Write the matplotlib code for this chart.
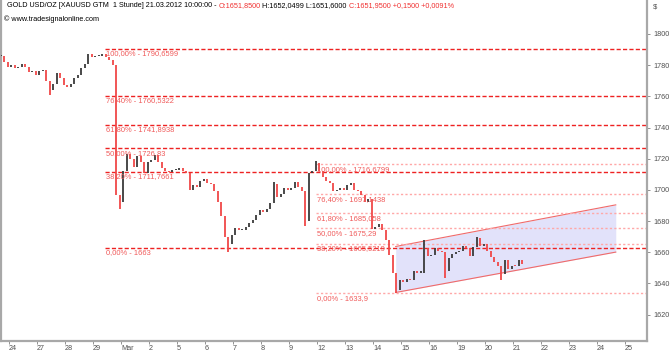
import matplotlib
matplotlib.use("Agg")
import matplotlib.pyplot as plt
import numpy as np

plt.rcParams['font.family'] = ['Liberation Sans', 'DejaVu Sans']

# trading days shown on the x axis (index 0 = Feb 24)
day_labels = ['24', '27', '28', '29', 'Mar', '2', '5', '6', '7', '8', '9', '12',
              '13', '14', '15', '16', '19', '20', '21', '22', '23', '24', '25']

# 3-hour closes, first bar at day -0.286
bar_start = -0.286
bar_step = 0.125
closes = [1786, 1782, 1779, 1780, 1778, 1779, 1781, 1779, 1775.5, 1776,
          1774, 1776, 1777, 1770, 1764, 1768, 1775, 1772, 1767, 1766,
          1768, 1772, 1774, 1778, 1781, 1787, 1785, 1786, 1786, 1787,
          1785, 1783, 1780, 1697, 1692, 1712, 1723, 1720, 1715, 1722,
          1718, 1711, 1718, 1719, 1722.5, 1718, 1714, 1712, 1711.5, 1713,
          1713, 1714, 1712, 1711, 1700, 1703, 1702, 1706, 1707, 1704.5,
          1704, 1699, 1692, 1683, 1670, 1665, 1671, 1675.6, 1674, 1674.4,
          1676, 1679, 1681, 1684, 1687, 1686, 1688, 1691.7, 1704, 1695.5,
          1697.4, 1701, 1700, 1701, 1705, 1702, 1699.5, 1680, 1711, 1712,
          1717, 1712, 1708, 1706, 1704.5, 1699.5, 1700, 1701, 1700, 1703,
          1704.5, 1700, 1699.5, 1697, 1692, 1694, 1675, 1676, 1678, 1674,
          1668, 1658, 1647, 1636, 1642, 1641, 1643, 1642, 1648, 1647,
          1647, 1663, 1657.7, 1658, 1663, 1661, 1660, 1648, 1656, 1659,
          1660, 1661, 1663.7, 1663, 1657.7, 1663.5, 1669, 1664, 1665, 1661,
          1657, 1654, 1651, 1646, 1655, 1649, 1651.3, 1651, 1655, 1652.6]
wick_lows = {14: 1761, 34: 1688, 65: 1660, 87: 1677, 113: 1634, 127: 1643.6, 143: 1642}
wick_highs = {78: 1705, 90: 1718.5, 121: 1668, 136: 1670}

# Fibonacci retracements
fib_levels = [1.0, 0.764, 0.618, 0.5, 0.382, 0.0]
fib1_high, fib1_low, fib1_start = 1790.6599, 1663.0, 3.43
fib2_high, fib2_low, fib2_start = 1716.6799, 1633.9, 10.96

# trend channel (day, price)
chan_x = [13.81, 21.67]
chan_lower = [1634.2, 1660.1]
chan_upper = [1663.7, 1690.4]

xmin, xmax = -0.286, 22.786
ymin, ymax = 1603.4, 1821.8

fig = plt.figure(figsize=(6.7, 3.52), dpi=100)
ax = fig.add_axes([1 / 670, 11.5 / 352, 646 / 670, 1 - 11.5 / 352])
ax.set_xlim(xmin, xmax)
ax.set_ylim(ymin, ymax)

# channel
ax.fill_between(chan_x, chan_lower, chan_upper, color='#e2e2fa', lw=0, zorder=1)
ax.plot(chan_x, chan_lower, color='#f06a6a', lw=0.8, zorder=2)
ax.plot(chan_x, chan_upper, color='#f06a6a', lw=0.8, zorder=2)


def fmt(v):
    return f"{v:.4f}".rstrip('0').rstrip('.').replace('.', ',')


def draw_fib(hi, lo, x0, color, dashes, lw):
    for lev in fib_levels:
        v = lo + (hi - lo) * lev
        ax.plot([x0, xmax], [v, v], color=color, lw=lw, dashes=dashes, zorder=2)
        ax.text(x0 + 0.05, v - 1.2, f"{lev * 100:.2f}".replace('.', ',') + "% - " + fmt(v),
                color='#f05a5a', fontsize=5.4, va='top', ha='left', zorder=4)


draw_fib(fib1_high, fib1_low, fib1_start, '#ee2222', (3, 1.6), 1.0)
draw_fib(fib2_high, fib2_low, fib2_start, '#ffa8a8', (1.6, 1.6), 1.0)

# candles: open = previous close
xs, los, his, cols = [], [], [], []
for k, c in enumerate(closes):
    o = closes[k - 1] if k > 0 else c
    lo, hi = min(o, c), max(o, c)
    if hi - lo < 0.7:
        hi = lo + 0.7
    lo = min(lo, wick_lows.get(k, lo))
    hi = max(hi, wick_highs.get(k, hi))
    xs.append(bar_start + k * bar_step)
    los.append(lo)
    his.append(hi)
    cols.append('#3a3a3a' if c >= o else '#f04848')
ax.vlines(xs, los, his, colors=cols, lw=1.3, zorder=3)

# axes styling
ax.spines['top'].set_visible(False)
for s in ['left', 'right', 'bottom']:
    ax.spines[s].set_color('#a8a8a8')
    ax.spines[s].set_linewidth(1.6)

ax.yaxis.tick_right()
ax.set_yticks(np.arange(1620, 1801, 20))
ax.tick_params(axis='y', length=2.5, width=0.6, color='#808080', labelsize=5.2,
               labelcolor='#505050', pad=2)
ax.set_xticks(range(len(day_labels)))
ax.set_xticklabels(day_labels)
ax.tick_params(axis='x', length=2, width=0.6, color='#808080', labelsize=5.2,
               labelcolor='#505050', pad=1)
for lab in ax.get_xticklabels():
    lab.set_ha('left')
ax.text(1.009, 0.99, '$', transform=ax.transAxes, fontsize=5.5, color='#505050',
        va='top', ha='left')

# header
t = ax.text(0.009, 0.995, "GOLD USD/OZ [XAUUSD GTM  1 Stunde] 21.03.2012 10:00:00 - ",
            transform=ax.transAxes, fontsize=5.2, color='black', va='top', ha='left')
for s, col in [("O:1651,8500", '#f03030'), (" H:1652,0499 L:1651,6000 ", 'black'),
               ("C:1651,9500 +0,1500 +0,0091%", '#f03030')]:
    t = ax.annotate(s, xy=(1, 0), xycoords=t, va='bottom', ha='left',
                    fontsize=5.2, color=col)
ax.text(0.004, 0.955, "© www.tradesignalonline.com", transform=ax.transAxes,
        fontsize=5.2, color='black', va='top', ha='left')

fig.savefig('out.png', dpi=100)
